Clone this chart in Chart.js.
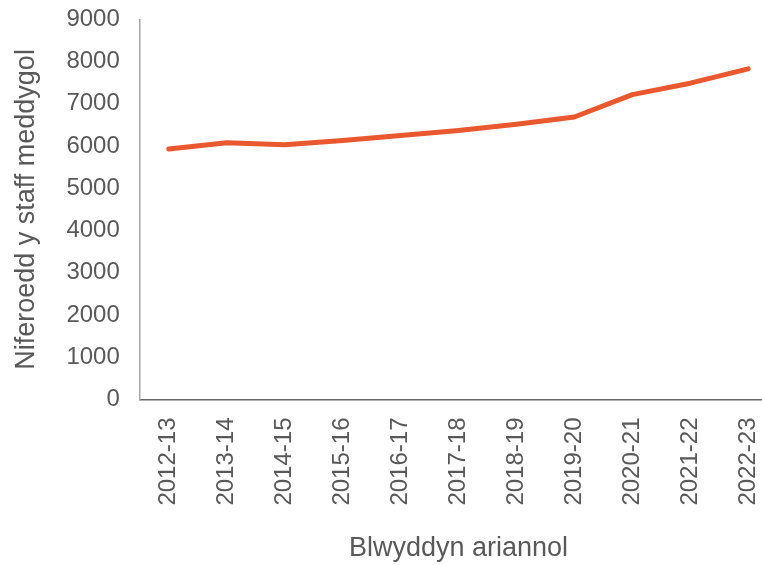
<!DOCTYPE html>
<html>
<head>
<meta charset="utf-8">
<script src="https://cdn.jsdelivr.net/npm/chart.js@4/dist/chart.umd.min.js"></script>
<style>
html,body{margin:0;padding:0;background:#fff;overflow:hidden;width:762px;height:565px;}
#wrap{position:absolute;left:0;top:-15px;width:795px;height:580px;}
</style>
</head>
<body>
<div id="wrap"><canvas id="c" width="795" height="580"></canvas></div>
<script>
const categories = ["2012-13","2013-14","2014-15","2015-16","2016-17","2017-18","2018-19","2019-20","2020-21","2021-22","2022-23"];
const staffValues = [5930, 6080, 6030, 6130, 6250, 6370, 6520, 6690, 7220, 7490, 7830];
const yTicks = [0,1000,2000,3000,4000,5000,6000,7000,8000,9000];
const xTitle = "Blwyddyn ariannol";
const yTitle = "Niferoedd y staff meddygol";

const font = "'Liberation Sans', Arial, sans-serif";
new Chart(document.getElementById('c'), {
  type: 'line',
  data: {
    labels: categories,
    datasets: [{
      data: staffValues,
      borderColor: '#E9582F',
      backgroundColor: '#E9582F',
      borderWidth: 5,
      pointRadius: 0,
      tension: 0,
      borderCapStyle: 'round',
      borderJoinStyle: 'round'
    }]
  },
  options: {
    responsive: false,
    animation: false,
    devicePixelRatio: 1,
    layout: { padding: { top: 0, right: 0, left: 10, bottom: 0 } },
    plugins: { legend: { display: false }, tooltip: { enabled: false } },
    scales: {
      x: {
        offset: true,
        grid: { display: false, drawTicks: false },
        border: { display: true, color: '#666666', width: 1.5 },
        ticks: { color: '#595959', font: { family: font, size: 24 }, minRotation: 90, maxRotation: 90, padding: 18, autoSkip: false },
        title: { display: true, text: xTitle, color: '#595959', font: { family: font, size: 27 }, padding: { top: 9, bottom: 0 } }
      },
      y: {
        min: 0, max: 9000,
        afterBuildTicks: (s) => { s.ticks = yTicks.map(v => ({ value: v })); },
        grid: { display: false, drawTicks: false },
        border: { display: true, color: '#A6A6A6', width: 1.5 },
        ticks: { color: '#595959', font: { family: font, size: 24 }, padding: 20, callback: (v) => String(v) },
        title: { display: true, text: yTitle, color: '#595959', font: { family: font, size: 27 }, padding: { top: 0, bottom: 4 } }
      }
    }
  }
});
</script>
</body>
</html>
